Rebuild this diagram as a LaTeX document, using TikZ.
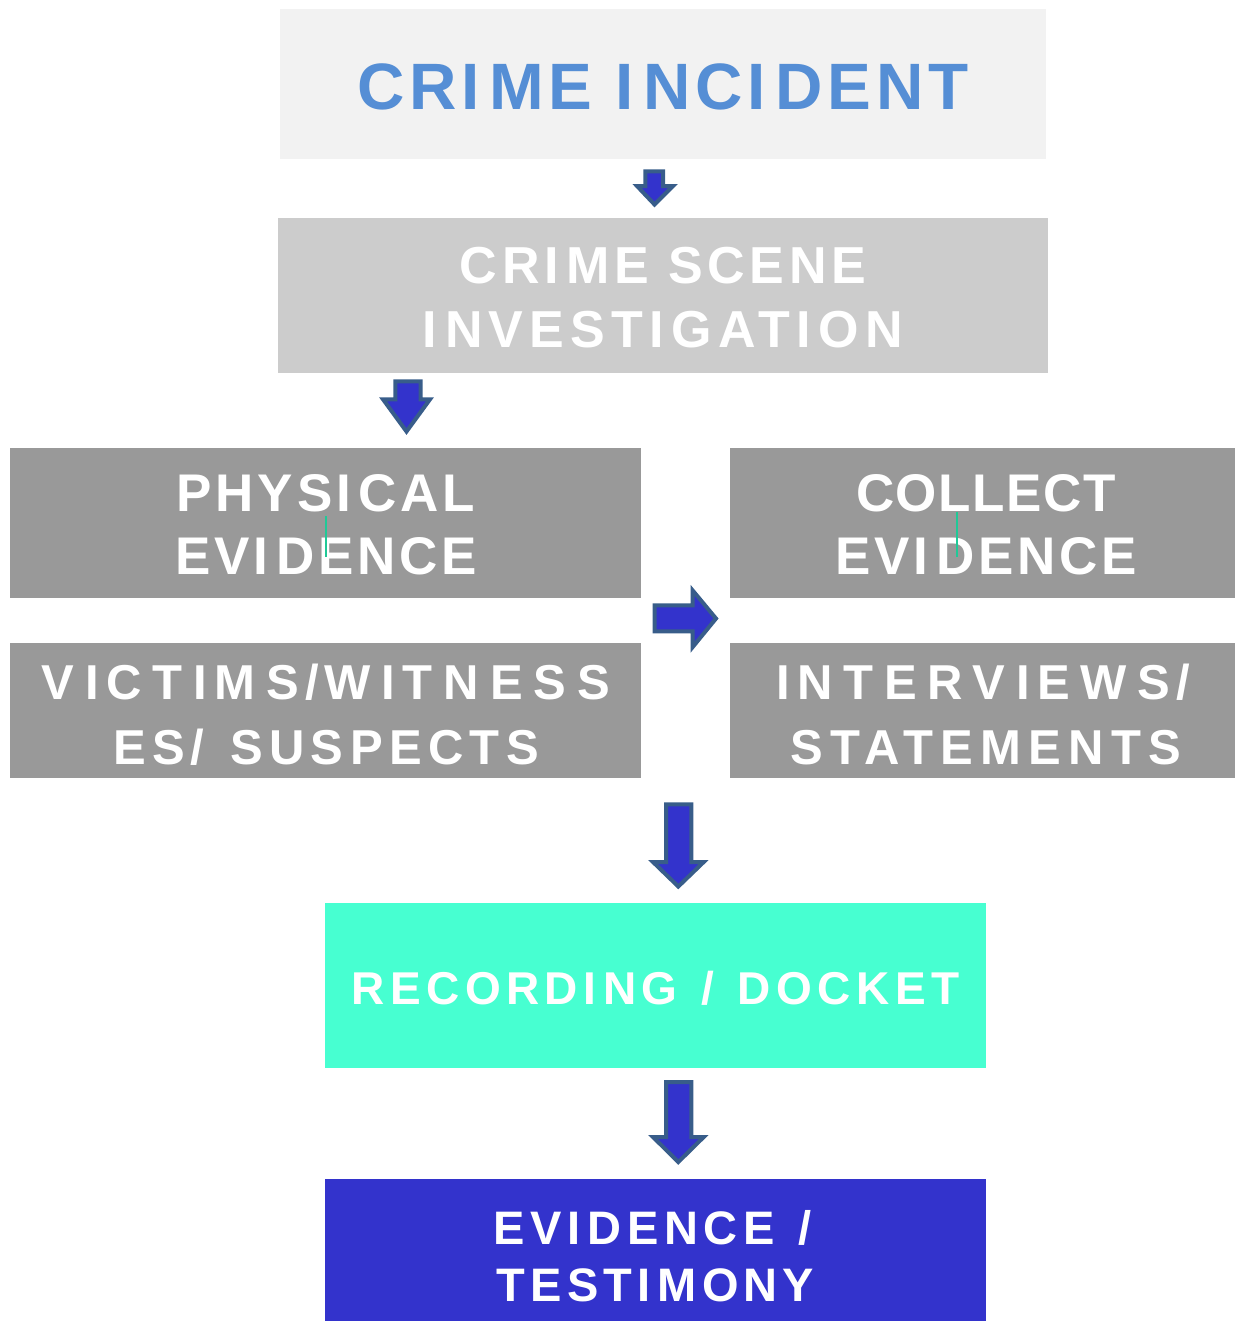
\documentclass[tikz,border=0pt]{standalone}
\usepackage{fontspec}
\setmainfont{Liberation Sans}
\newcommand\ls[1]{\addfontfeatures{LetterSpace=#1}}
\newcommand\Ii{I\kern0.15em}
\newcommand\Sl{\kern0.12em/\kern0.12em}
\definecolor{incfill}{HTML}{F2F2F2}
\definecolor{inctext}{HTML}{558ED5}
\definecolor{csifill}{HTML}{CCCCCC}
\definecolor{greyfill}{HTML}{999999}
\definecolor{recfill}{HTML}{47FFD1}
\definecolor{evfill}{HTML}{3333CC}
\definecolor{arrowfill}{HTML}{3333CC}
\definecolor{arrowedge}{HTML}{385D8A}
\definecolor{tealmark}{HTML}{20C997}
\begin{document}
\begin{tikzpicture}[x=0.5pt,y=-0.5pt,
  box/.style={rectangle, inner sep=0pt, draw=none},
  txt/.style={inner sep=0pt, align=center, text=white},
  blockarrow/.style={fill=arrowfill, draw=arrowedge, line width=2pt, line join=miter},
  tealline/.style={draw=tealmark, line width=1pt}]
\useasboundingbox (0,0) rectangle (1235,1322);

% boxes
\node[box, fill=incfill, minimum width=383pt, minimum height=75pt] (incident) at (663,84) {};
\node[box, fill=csifill, minimum width=385pt, minimum height=77.5pt] (csi) at (663,295.5) {};
\node[box, fill=greyfill, minimum width=315.5pt, minimum height=75pt] (physical) at (325.5,523) {};
\node[box, fill=greyfill, minimum width=252.5pt, minimum height=75pt] (collect) at (982.5,523) {};
\node[box, fill=greyfill, minimum width=315.5pt, minimum height=67.5pt] (victims) at (325.5,710.5) {};
\node[box, fill=greyfill, minimum width=252.5pt, minimum height=67.5pt] (interviews) at (982.5,710.5) {};
\node[box, fill=recfill, minimum width=330.5pt, minimum height=82.5pt] (recording) at (655.5,985.5) {};
\node[box, fill=evfill, minimum width=330.5pt, minimum height=71pt] (evidence) at (655.5,1250) {};

% texts
\node[txt, text=inctext, font=\bfseries\fontsize{32.8}{39}\selectfont] (t-incident) at (663,87)
  {\ls{7.2}CR\Ii ME \Ii NC\Ii DENT};
\node[txt, font=\bfseries\fontsize{26}{32}\selectfont] (t-csi) at (663,297.5)
  {{\ls{9}CR\Ii ME SCENE}\\{\ls{12}\Ii NVEST\Ii GAT\Ii ON}};
\node[txt, font=\bfseries\fontsize{26.5}{31.5}\selectfont] (t-physical) at (326,525)
  {{\ls{7}PHYS\Ii CAL}\\{\ls{7}EV\Ii DENCE}};
\node[txt, font=\bfseries\fontsize{26.5}{31.5}\selectfont] (t-collect) at (986,525)
  {{\ls{3}COLLECT}\\{\ls{7}EV\Ii DENCE}};
\node[txt, font=\bfseries\fontsize{24.5}{32.5}\selectfont] (t-victims) at (326,714.5)
  {{\ls{22.4}V\Ii CT\Ii MS\Sl W\Ii TNESS}\\{\ls{13}ES\Sl\ SUSPECTS}};
\node[txt, font=\bfseries\fontsize{24.5}{32.5}\selectfont] (t-interviews) at (986,714.5)
  {{\ls{22}\Ii NTERV\Ii EWS\Sl}\\{\ls{15}STATEMENTS}};
\node[txt, font=\bfseries\fontsize{23}{28}\selectfont] (t-recording) at (655.5,988.5)
  {\ls{11.8}RECORD\Ii NG \Sl\ DOCKET};
\node[txt, font=\bfseries\fontsize{23.5}{28.5}\selectfont] (t-evidence) at (655.5,1256)
  {{\ls{12}EV\Ii DENCE \Sl}\\{\ls{11}TEST\Ii MONY}};

% thin marks inside the evidence boxes
\draw[tealline] (326,516) -- (326,557);
\draw[tealline] (957,512) -- (957,557);

% block arrows
\draw[blockarrow] (645.3,171.3) -- (663,171.3) -- (663,186) -- (673,186) -- (654.5,204.5)
  -- (637,186) -- (645.3,186) -- cycle;
\draw[blockarrow] (395.3,381.3) -- (420.7,381.3) -- (420.7,399.3) -- (430,399.3) -- (406.5,431.5)
  -- (383,399.3) -- (395.3,399.3) -- cycle;
\draw[blockarrow] (654.7,605.3) -- (692.7,605.3) -- (692.7,590.5) -- (716,618.5) -- (692.7,647)
  -- (692.7,631.3) -- (654.7,631.3) -- cycle;
\draw[blockarrow] (666,804.3) -- (691.3,804.3) -- (691.3,862) -- (703.7,862) -- (678.3,886.5)
  -- (653,862) -- (666,862) -- cycle;
\draw[blockarrow] (666,1082) -- (691.3,1082) -- (691.3,1137) -- (703.7,1137) -- (678.3,1162)
  -- (653,1137) -- (666,1137) -- cycle;
\end{tikzpicture}
\end{document}
